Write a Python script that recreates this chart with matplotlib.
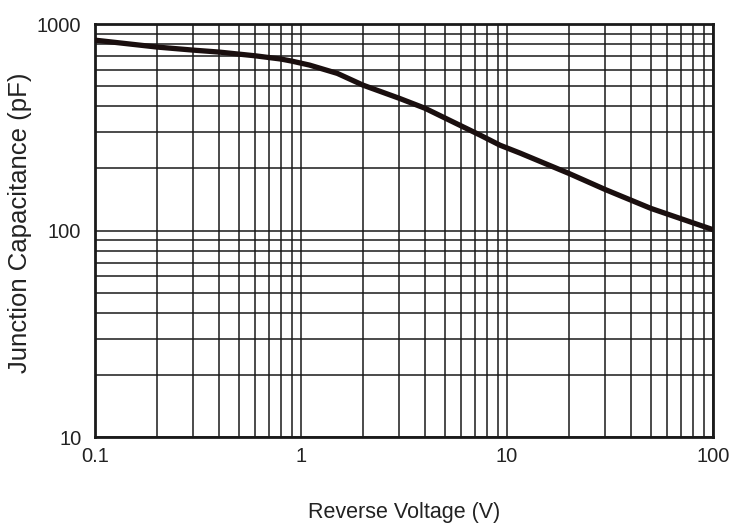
import matplotlib
matplotlib.use('Agg')
import matplotlib.pyplot as plt
from matplotlib.ticker import FixedLocator, NullFormatter

plt.rcParams['font.family'] = ['Liberation Sans', 'DejaVu Sans']

# values
voltage = [0.1, 0.2, 0.3, 0.4, 0.6, 0.8, 0.9, 1.1, 1.5, 2, 3, 4, 6, 7.4, 9.25, 11.6, 20, 30, 50, 100]
capacitance = [836, 774, 748, 732, 702, 677, 662, 633, 577, 506, 437, 391, 321, 290, 259, 237, 189, 158, 128, 101]

x_ticks = [0.1, 1, 10, 100]
x_labels = ['0.1', '1', '10', '100']
y_ticks = [10, 100, 1000]
y_labels = ['10', '100', '1000']

fig = plt.figure(figsize=(7.32, 5.24), dpi=100)
ax = fig.add_axes([0.130, 0.166, 0.844, 0.788])

ax.set_xscale('log')
ax.set_yscale('log')
ax.set_xlim(0.1, 100)
ax.set_ylim(10, 1000)

# grid on every 1..9 decade step
minor_x = [m * 10.0 ** e for e in range(-1, 2) for m in range(2, 10)]
minor_y = [m * 10.0 ** e for e in range(1, 3) for m in range(2, 10)]
ax.xaxis.set_major_locator(FixedLocator(x_ticks))
ax.yaxis.set_major_locator(FixedLocator(y_ticks))
ax.xaxis.set_minor_locator(FixedLocator(minor_x))
ax.yaxis.set_minor_locator(FixedLocator(minor_y))
ax.xaxis.set_minor_formatter(NullFormatter())
ax.yaxis.set_minor_formatter(NullFormatter())
ax.set_xticklabels(x_labels)
ax.set_yticklabels(y_labels)
ax.grid(True, which='both', color='#1a1a1a', linewidth=1.1)
ax.tick_params(which='both', length=0, labelsize=14.5, colors='#222222')
ax.tick_params(axis='x', pad=7)
ax.tick_params(axis='y', pad=10)

ax.plot(voltage, capacitance, color='#1a0f0f', linewidth=3.8,
        solid_joinstyle='round', solid_capstyle='butt', zorder=3)

for s in ax.spines.values():
    s.set_linewidth(2.0)
    s.set_color('#1a1a1a')

ax.set_xlabel('Reverse Voltage (V)', fontsize=15.5, color='#222222', labelpad=26)
ax.set_ylabel('Junction Capacitance (pF)', fontsize=18.5, color='#222222')
ax.yaxis.set_label_coords(-0.102, 0.52)

fig.savefig('out.png', dpi=100)
